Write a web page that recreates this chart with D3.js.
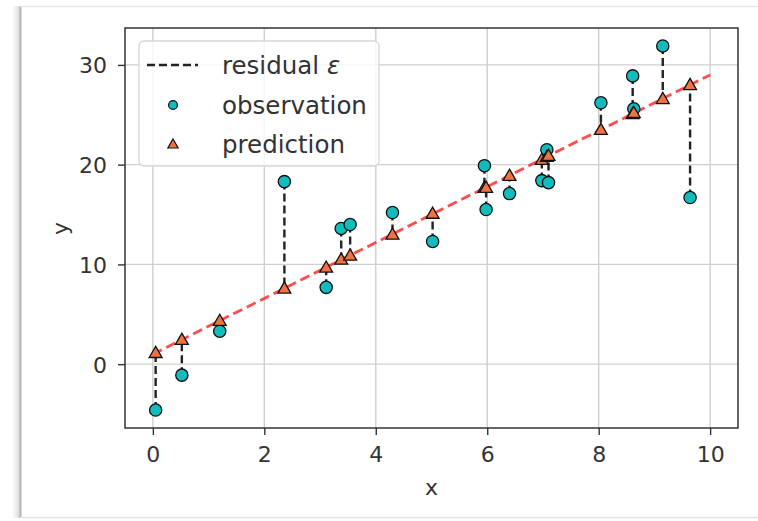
<!DOCTYPE html>
<html>
<head>
<meta charset="utf-8">
<script src="https://cdn.jsdelivr.net/npm/d3@7"></script>
<style>
  html, body { margin: 0; padding: 0; background: #fff; }
  svg { display: block; font-family: "DejaVu Sans", "Liberation Sans", sans-serif; }
</style>
</head>
<body>
<svg id="chart" width="758" height="521"></svg>
<script>
// Sample points: x position, observed y and the fitted (predicted) y
const xValues   = [0.05, 0.52, 1.20, 2.36, 3.11, 3.38, 3.54, 4.30, 5.02, 5.95, 5.98, 6.40, 6.98, 7.07, 7.10, 8.04, 8.61, 8.63, 9.15, 9.64];
const observed  = [-4.6, -1.1, 3.3, 18.3, 7.7, 13.6, 14.0, 15.2, 12.3, 19.9, 15.5, 17.1, 18.4, 21.5, 18.2, 26.2, 28.9, 25.6, 31.9, 16.7];
const predicted = [1.14, 2.46, 4.36, 7.6, 9.7, 10.5, 10.9, 13.0, 15.1, 17.7, 17.7, 18.9, 20.5, 20.8, 20.9, 23.5, 25.1, 25.2, 26.6, 28.0];

// Fitted regression line end points
const fitX = [0, 10];
const fitY = [1.0, 29.0];

const xTicks = [0, 2, 4, 6, 8, 10];
const yTicks = [0, 10, 20, 30];
const legendLabels = ["residual ", "observation", "prediction"];
const xLabel = "x";
const yLabel = "y";

const svg = d3.select("#chart");
const W = 758, H = 521;

// page frame
const frame = svg.append("g");
const defs = svg.append("defs");
const sh = defs.append("linearGradient").attr("id", "leftShadow").attr("x1", "0").attr("x2", "1");
sh.append("stop").attr("offset", "0").attr("stop-color", "#fff");
sh.append("stop").attr("offset", "1").attr("stop-color", "#d8d8d8");
frame.append("rect").attr("x", 12).attr("y", 6).attr("width", 8).attr("height", 512).attr("fill", "url(#leftShadow)");
frame.append("line").attr("x1", 20.5).attr("x2", 20.5).attr("y1", 6).attr("y2", 518).attr("stroke", "#b4b4b4").attr("stroke-width", 2);
frame.append("line").attr("x1", 20).attr("x2", W).attr("y1", 6.5).attr("y2", 6.5).attr("stroke", "#e6e6e6").attr("stroke-width", 1.5);
frame.append("line").attr("x1", 20).attr("x2", W).attr("y1", 517.5).attr("y2", 517.5).attr("stroke", "#e2e2e2").attr("stroke-width", 1.5);

const plot = { left: 125, top: 28, right: 738, bottom: 428 };
const x = d3.scaleLinear().domain([-0.5, 10.5]).range([plot.left, plot.right]);
const y = d3.scaleLinear().domain([-6.4, 33.7]).range([plot.bottom, plot.top]);

// grid
const grid = svg.append("g").attr("stroke", "#cfcfcf").attr("stroke-width", 1.4);
grid.selectAll("line.gx").data(xTicks).join("line")
  .attr("x1", d => x(d)).attr("x2", d => x(d))
  .attr("y1", plot.top).attr("y2", plot.bottom);
grid.selectAll("line.gy").data(yTicks).join("line")
  .attr("x1", plot.left).attr("x2", plot.right)
  .attr("y1", d => y(d)).attr("y2", d => y(d));

// axes
const axisColor = "#333";
const xAxis = svg.append("g")
  .attr("transform", `translate(0,${plot.bottom})`)
  .call(d3.axisBottom(x).tickValues(xTicks).tickSize(7).tickFormat(d3.format("d")));
xAxis.select(".domain").remove();
xAxis.selectAll("line").attr("stroke", axisColor).attr("stroke-width", 1.4);
xAxis.selectAll("text").attr("y", 34).attr("dy", null)
  .attr("font-size", 22).attr("fill", "#333").attr("font-family", "DejaVu Sans");

const yAxis = svg.append("g")
  .attr("transform", `translate(${plot.left},0)`)
  .call(d3.axisLeft(y).tickValues(yTicks).tickSize(7).tickPadding(11).tickFormat(d3.format("d")));
yAxis.select(".domain").remove();
yAxis.selectAll("line").attr("stroke", axisColor).attr("stroke-width", 1.4);
yAxis.selectAll("text").attr("dy", "0.36em")
  .attr("font-size", 22).attr("fill", "#333").attr("font-family", "DejaVu Sans");

// axis labels
svg.append("text").attr("x", x(5)).attr("y", 495).attr("text-anchor", "middle")
  .attr("font-size", 22).attr("fill", "#333").text(xLabel);
svg.append("text").attr("transform", `translate(68,${y(13.6)}) rotate(-90)`)
  .attr("text-anchor", "middle").attr("font-size", 22).attr("fill", "#333").text(yLabel);

const pts = xValues.map((v, i) => ({ x: v, obs: observed[i], pred: predicted[i] }));

// clip to plot area
defs.append("clipPath").attr("id", "plotClip").append("rect")
  .attr("x", plot.left).attr("y", plot.top)
  .attr("width", plot.right - plot.left).attr("height", plot.bottom - plot.top);
const g = svg.append("g").attr("clip-path", "url(#plotClip)");

// regression line
g.append("path")
  .datum(fitX.map((v, i) => [v, fitY[i]]))
  .attr("d", d3.line().x(d => x(d[0])).y(d => y(d[1])))
  .attr("fill", "none").attr("stroke", "#ff2d2d").attr("stroke-opacity", 0.85)
  .attr("stroke-width", 2.8).attr("stroke-dasharray", "10,5");

// residuals
g.selectAll("line.res").data(pts).join("line").attr("class", "res")
  .attr("x1", d => x(d.x)).attr("x2", d => x(d.x))
  .attr("y1", d => y(d.obs)).attr("y2", d => y(d.pred))
  .attr("stroke", "#222").attr("stroke-width", 2.4).attr("stroke-dasharray", "8,4");

const teal = "#13bcbc", orange = "#f0733f";
const circleSym = d3.symbol().type(d3.symbolCircle).size(118);
const triSym = d3.symbol().type(d3.symbolTriangle).size(72);

// observations
g.selectAll("path.obs").data(pts).join("path").attr("class", "obs")
  .attr("d", circleSym)
  .attr("transform", d => `translate(${x(d.x)},${y(d.obs)})`)
  .attr("fill", teal).attr("stroke", "#111").attr("stroke-width", 1.3);

// predictions
g.selectAll("path.pred").data(pts).join("path").attr("class", "pred")
  .attr("d", triSym)
  .attr("transform", d => `translate(${x(d.x)},${y(d.pred) + 1})`)
  .attr("fill", orange).attr("stroke", "#111").attr("stroke-width", 1.3);

// plot frame
svg.append("rect")
  .attr("x", plot.left).attr("y", plot.top)
  .attr("width", plot.right - plot.left).attr("height", plot.bottom - plot.top)
  .attr("fill", "none").attr("stroke", axisColor).attr("stroke-width", 1.5);

// legend
const lg = svg.append("g").attr("transform", "translate(139,41)");
lg.append("rect").attr("width", 240).attr("height", 125).attr("rx", 5)
  .attr("fill", "#fff").attr("fill-opacity", 0.82)
  .attr("stroke", "#d6d6d6").attr("stroke-width", 1.3);
lg.append("line").attr("x1", 8).attr("x2", 59).attr("y1", 24).attr("y2", 24)
  .attr("stroke", "#222").attr("stroke-width", 2.4).attr("stroke-dasharray", "8,4");
lg.append("path").attr("d", d3.symbol().type(d3.symbolCircle).size(62)())
  .attr("transform", "translate(34,64)")
  .attr("fill", teal).attr("stroke", "#111").attr("stroke-width", 1.2);
lg.append("path").attr("d", d3.symbol().type(d3.symbolTriangle).size(46)())
  .attr("transform", "translate(34,104)")
  .attr("fill", orange).attr("stroke", "#111").attr("stroke-width", 1.2);
const baselines = [33, 73, 112];
legendLabels.forEach((t, i) => {
  const tx = lg.append("text").attr("x", 83).attr("y", baselines[i])
    .attr("font-size", 24.5).attr("fill", "#333").text(t);
  if (i === 0) tx.append("tspan").attr("font-style", "italic").text("ε");
});
</script>
</body>
</html>
